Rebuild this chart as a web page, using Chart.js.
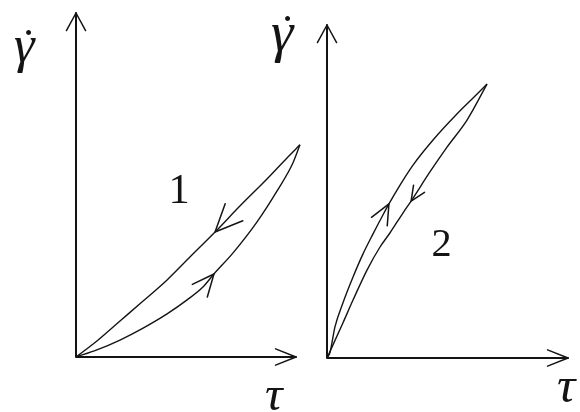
<!DOCTYPE html>
<html>
<head>
<meta charset="utf-8">
<script src="https://cdn.jsdelivr.net/npm/chart.js@4.4.0/dist/chart.umd.min.js"></script>
<style>
  html, body { margin: 0; padding: 0; background: #fff; }
  #wrap { position: relative; width: 580px; height: 412px; overflow: hidden; background: #fff; }
  #wrap canvas { position: absolute; left: 0; top: 0; }
</style>
</head>
<body>
<div id="wrap">
  <canvas id="loop1" width="580" height="412"></canvas>
  <canvas id="loop2" width="580" height="412"></canvas>
</div>
<script>
// Loop 1: shear rate against shear stress, loading (up) and unloading (down) branches
const tau1Up    = [0, 0.95, 2.0, 3.05, 4.14, 5.05, 5.77, 6.27, 7.14, 8.23, 9.14, 9.86, 10.18];
const rate1Up   = [0, 0.31, 0.74, 1.26, 1.88, 2.49, 3.05, 3.62, 4.54, 5.89, 7.24, 8.46, 9.25];
const tau1Down  = [0, 0.95, 2.0, 3.05, 4.14, 5.18, 6.32, 7.45, 8.68, 9.59, 10.18];
const rate1Down = [0, 0.70, 1.57, 2.44, 3.36, 4.36, 5.45, 6.58, 7.76, 8.68, 9.25];

// Loop 2
const tau2Up    = [0, 0.12, 0.33, 0.66, 1.08, 1.49, 1.91, 2.32, 2.57, 3.03, 3.57, 4.40, 5.39, 6.06, 6.64];
const rate2Up   = [0, 0.23, 1.40, 2.48, 3.65, 4.68, 5.59, 6.44, 6.94, 7.79, 8.69, 9.82, 10.99, 11.71, 12.34];
const tau2Down  = [0, 0.66, 1.08, 1.66, 2.20, 2.61, 3.15, 3.49, 4.27, 4.98, 5.81, 6.64];
const rate2Down = [0, 1.58, 2.61, 3.96, 5.00, 5.63, 6.53, 7.07, 8.38, 9.50, 10.72, 12.34];

const loopNames = ['1', '2'];
const yAxisSymbol = 'γ';
const yAxisDot = '˙';
const xAxisLabel = 'τ';

const ink = '#141414';
const serif = '"Liberation Serif", "Times New Roman", serif';

function toPoints(xs, ys) { return xs.map((x, i) => ({ x, y: ys[i] })); }

// open arrowhead with its tip at (tx, ty), pointing away from (fx, fy)
function head(ctx, tx, ty, fx, fy, len, spread) {
  const a = Math.atan2(ty - fy, tx - fx);
  ctx.beginPath();
  ctx.moveTo(tx - len * Math.cos(a - spread), ty - len * Math.sin(a - spread));
  ctx.lineTo(tx, ty);
  ctx.lineTo(tx - len * Math.cos(a + spread), ty - len * Math.sin(a + spread));
  ctx.stroke();
}

// draws a glyph so that its inked box has the given height and is centred on (cx, cy)
function glyph(ctx, text, style, inkHeight, cx, cy) {
  ctx.font = style + ' 100px ' + serif;
  let m = ctx.measureText(text);
  const h = m.actualBoundingBoxAscent + m.actualBoundingBoxDescent || 70;
  ctx.font = style + ' ' + (100 * inkHeight / h).toFixed(1) + 'px ' + serif;
  m = ctx.measureText(text);
  const x = cx - (m.actualBoundingBoxRight - m.actualBoundingBoxLeft) / 2;
  const y = cy + (m.actualBoundingBoxAscent - m.actualBoundingBoxDescent) / 2;
  ctx.fillText(text, x, y);
}

// axes with arrow tips, direction arrows on the branches, and the labels
const sketch = {
  id: 'sketch',
  afterDraw(chart, args, o) {
    const { ctx } = chart;
    const xs = chart.scales.x, ys = chart.scales.y;
    const ox = xs.getPixelForValue(0), oy = ys.getPixelForValue(0);
    const ex = xs.getPixelForValue(xs.max), ty = ys.getPixelForValue(ys.max);
    ctx.save();
    ctx.strokeStyle = ink;
    ctx.fillStyle = ink;
    ctx.lineCap = 'round';
    ctx.lineJoin = 'round';
    ctx.lineWidth = 2;
    ctx.beginPath();
    ctx.moveTo(ox, ty);
    ctx.lineTo(ox, oy);
    ctx.lineTo(ex, oy);
    ctx.stroke();
    ctx.lineWidth = 1.5;
    head(ctx, ox, ty, ox, oy, 20, 0.5);
    head(ctx, ex, oy, ox, oy, 22, 0.38);

    chart.data.datasets.forEach((ds, i) => {
      const pts = chart.getDatasetMeta(i).data;
      const p = pts[ds.arrowAt], q = pts[ds.arrowAt - ds.arrowDir];
      head(ctx, p.x, p.y, q.x, q.y, ds.arrowLen, 0.42);
    });

    ctx.textAlign = 'left';
    ctx.textBaseline = 'alphabetic';
    glyph(ctx, yAxisSymbol, 'italic', o.gamma[2], ox + o.gamma[0], ty + o.gamma[1]);
    glyph(ctx, yAxisDot, 'bold', 5, ox + o.dot[0], ty + o.dot[1]);
    glyph(ctx, xAxisLabel, 'italic', o.tau[2], ex + o.tau[0], oy + o.tau[1]);
    glyph(ctx, o.name, 'normal', o.nameHeight,
      xs.getPixelForValue(o.nameAt[0]), ys.getPixelForValue(o.nameAt[1]));
    ctx.restore();
  }
};

function branch(xs, ys, arrowAt, arrowDir, arrowLen) {
  return {
    data: toPoints(xs, ys),
    showLine: true,
    borderColor: ink,
    borderWidth: 1.4,
    pointRadius: 0,
    cubicInterpolationMode: 'monotone',
    clip: false,
    arrowAt, arrowDir, arrowLen
  };
}

function makeLoop(id, datasets, xMax, yMax, padding, labels) {
  return new Chart(document.getElementById(id), {
    type: 'scatter',
    data: { datasets },
    options: {
      responsive: false,
      animation: false,
      events: [],
      layout: { padding },
      scales: {
        x: { type: 'linear', min: 0, max: xMax, display: false },
        y: { type: 'linear', min: 0, max: yMax, display: false }
      },
      plugins: { legend: { display: false }, tooltip: { enabled: false }, sketch: labels }
    },
    plugins: [sketch]
  });
}

function drawAll() {
  makeLoop('loop1',
    [branch(tau1Up, rate1Up, 7, 1, 24), branch(tau1Down, rate1Down, 6, -1, 30)],
    10, 15,
    { left: 76, right: 284, top: 13, bottom: 55 },
    { name: loopNames[0], nameAt: [4.70, 7.33], nameHeight: 28,
      gamma: [-51, 42.5, 35], dot: [-47, 19], tau: [-21, 41.5, 23] });

  makeLoop('loop2',
    [branch(tau2Up, rate2Up, 8, 1, 22), branch(tau2Down, rate2Down, 7, -1, 16)],
    10, 15,
    { left: 327, right: 12, top: 25, bottom: 54 },
    { name: loopNames[1], nameAt: [4.73, 5.16], nameHeight: 27,
      gamma: [-43.5, 19, 38], dot: [-39, -7], tau: [-0.5, 32, 24] });
}

// make sure the serif faces are ready before the canvases are painted
Promise.all([
  document.fonts.load('italic 42px "Liberation Serif"', 'γτ'),
  document.fonts.load('41px "Liberation Serif"', '12˙')
]).then(drawAll, drawAll);
</script>
</body>
</html>
